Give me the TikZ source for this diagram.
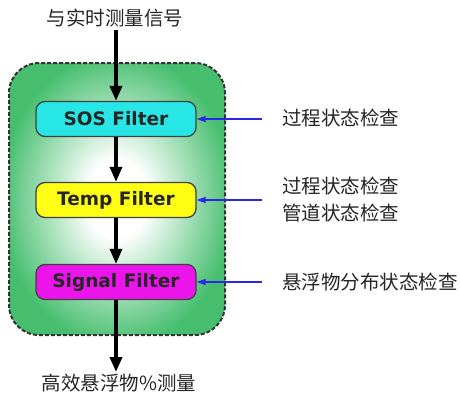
\documentclass[tikz,border=0pt]{standalone}
\usepackage{fontspec}
\newfontfamily\cjk{Noto Sans CJK SC}
\newfontfamily\lab{DejaVu Sans}
\usetikzlibrary{arrows.meta}
\definecolor{gr}{RGB}{70,190,110}
\definecolor{cy}{RGB}{40,230,230}
\definecolor{ye}{RGB}{255,255,20}
\definecolor{mg}{RGB}{235,20,235}
\definecolor{bl}{RGB}{40,40,230}
\pgfdeclareradialshading{glow}{\pgfpoint{0bp}{0bp}}{color(0bp)=(white); color(7bp)=(white); color(27bp)=(gr); color(50bp)=(gr)}
\begin{document}
\begin{tikzpicture}[x=1pt,y=-1pt,
  filt/.style={draw=black!75, line width=1.3pt, rounded corners=9pt, minimum width=160pt, minimum height=35pt, inner sep=0pt, font=\lab\bfseries\fontsize{18.5}{20}\selectfont, text=black!85},
  cjklab/.style={font=\cjk\fontsize{19.5}{22}\selectfont, text=black!85, inner sep=0pt},
  flow/.style={-{Triangle[length=15pt,width=12pt]}, line width=3.4pt, black},
  feed/.style={-{Triangle[length=9pt,width=6pt]}, line width=1.1pt, bl}]
\useasboundingbox[fill=white] (0,0) rectangle (460,394);
\node[draw=black!80, dash pattern=on 4pt off 2pt, line width=2pt, rounded corners=30pt, minimum width=216pt, minimum height=272pt, shade, shading=glow] (cont) at (117,199) {};
\node[cjklab] (top) at (115,18) {与实时测量信号};
\node[cjklab] (bot) at (119,383) {高效悬浮物\%测量};
\node[filt, fill=cy] (sos) at (116,119) {SOS Filter};
\node[filt, fill=ye] (temp) at (116,200) {Temp Filter};
\node[filt, fill=mg] (sig) at (116,282) {Signal Filter};
\coordinate (ts) at (116,30);
\coordinate (be) at (116,372);
\draw[flow] (ts) -- (sos.north);
\draw[flow] (sos.south) -- (temp.north);
\draw[flow] (temp.south) -- (sig.north);
\draw[flow] (sig.south) -- (be);
\coordinate (f1) at (262,119);
\coordinate (f2) at (262,200);
\coordinate (f3) at (262,282);
\draw[feed] (f1) -- (sos.east);
\draw[feed] (f2) -- (temp.east);
\draw[feed] (f3) -- (sig.east);
\node[cjklab, anchor=west] (l1) at (282,118) {过程状态检查};
\node[cjklab, anchor=west] (l2) at (282,186) {过程状态检查};
\node[cjklab, anchor=west] (l3) at (282,213) {管道状态检查};
\node[cjklab, anchor=west] (l4) at (282,282) {悬浮物分布状态检查};
\end{tikzpicture}
\end{document}
